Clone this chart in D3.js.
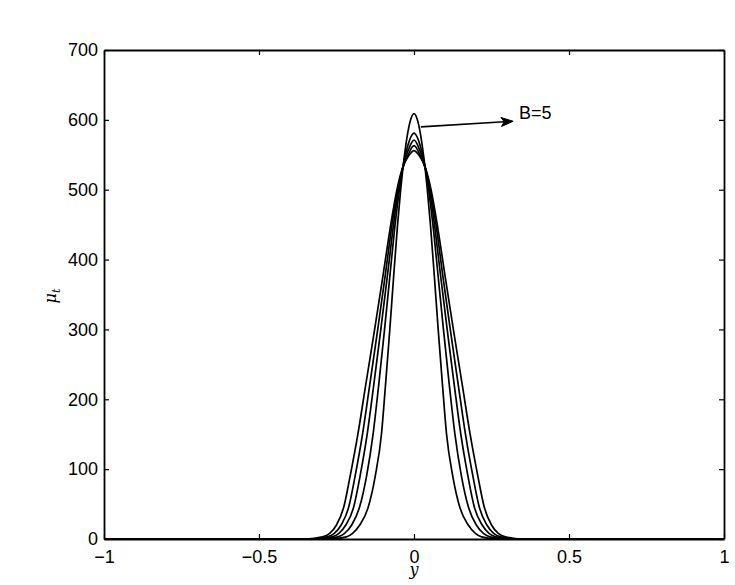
<!DOCTYPE html>
<html>
<head>
<meta charset="utf-8">
<script src="https://cdn.jsdelivr.net/npm/d3@7"></script>
<style>
  html, body { margin: 0; padding: 0; background: #fff; }
  svg { display: block; }
</style>
</head>
<body>
<svg id="chart" width="735" height="585"></svg>
<script>
// ---- data ----
const xTicks = [-1, -0.5, 0, 0.5, 1];
const xTickLabels = ["\u22121", "\u22120.5", "0", "0.5", "1"];
const yTicks = [0, 100, 200, 300, 400, 500, 600, 700];
const yTickLabels = ["0", "100", "200", "300", "400", "500", "600", "700"];

// mu_t levels at which each curve's half-width |y| was read
const levels = [0, 3, 8, 20, 45, 90, 150, 220, 300, 380, 450, 500, 530];
// half-widths (|y|) per curve, innermost (B=5) to outermost
const widthB5 = [0.270, 0.218, 0.198, 0.175, 0.148, 0.125, 0.105, 0.092, 0.078, 0.065, 0.053, 0.043, 0.036];
const widthC2 = [0.290, 0.245, 0.224, 0.201, 0.176, 0.153, 0.132, 0.114, 0.095, 0.077, 0.061, 0.047, 0.037];
const widthC3 = [0.310, 0.264, 0.242, 0.220, 0.195, 0.174, 0.151, 0.130, 0.107, 0.085, 0.066, 0.050, 0.037];
const widthC4 = [0.330, 0.280, 0.257, 0.235, 0.211, 0.190, 0.166, 0.143, 0.117, 0.092, 0.071, 0.053, 0.037];
const widthC5 = [0.350, 0.295, 0.272, 0.250, 0.227, 0.206, 0.181, 0.156, 0.127, 0.099, 0.075, 0.055, 0.038];
// points near the top of each curve: [level, half-width], last is the peak
const topB5 = [[565, 0.026], [595, 0.014], [609, 0]];
const topC2 = [[560, 0.022], [581, 0]];
const topC3 = [[555, 0.020], [571, 0]];
const topC4 = [[550, 0.019], [563, 0]];
const topC5 = [[550, 0.015], [556, 0]];

const curves = [
  { widths: widthB5, top: topB5 },
  { widths: widthC2, top: topC2 },
  { widths: widthC3, top: topC3 },
  { widths: widthC4, top: topC4 },
  { widths: widthC5, top: topC5 }
];

// annotation
const arrowFrom = [0.022, 590];
const arrowTo = [0.320, 598];
const labelPos = [0.339, 610];
const labelText = "B=5";

// ---- layout ----
const svg = d3.select("#chart");
const mLeft = 104, mRight = 724, mTop = 50, mBottom = 539;
const x = d3.scaleLinear().domain([-1, 1]).range([mLeft, mRight]);
const y = d3.scaleLinear().domain([0, 700]).range([mBottom, mTop]);

function profile(c) {
  const pts = [[-1, 0]];
  for (let i = 0; i < levels.length; i++) pts.push([-c.widths[i], levels[i]]);
  for (let i = 0; i < c.top.length; i++) {
    const w = c.top[i][1];
    pts.push([w > 0 ? -w : 0, c.top[i][0]]);
  }
  for (let i = c.top.length - 2; i >= 0; i--) pts.push([c.top[i][1], c.top[i][0]]);
  for (let i = levels.length - 1; i >= 0; i--) pts.push([c.widths[i], levels[i]]);
  pts.push([1, 0]);
  return pts;
}

const line = d3.line()
  .x(d => x(d[0]))
  .y(d => y(d[1]))
  .curve(d3.curveMonotoneX);

svg.append("defs").append("clipPath").attr("id", "clip")
  .append("rect").attr("x", mLeft).attr("y", mTop)
  .attr("width", mRight - mLeft).attr("height", mBottom - mTop);

svg.append("g").attr("clip-path", "url(#clip)")
  .selectAll("path.curve")
  .data(curves)
  .join("path")
  .attr("class", "curve")
  .attr("d", d => line(profile(d)))
  .attr("fill", "none")
  .attr("stroke", "#000")
  .attr("stroke-width", 1.7)
  .attr("stroke-linejoin", "round");

// axes (MATLAB-like: ticks inward, box)
const font = "'Liberation Sans', Arial, Helvetica, sans-serif";
const axB = svg.append("g").attr("transform", `translate(0,${mBottom})`)
  .call(d3.axisBottom(x).tickValues(xTicks).tickSize(-5).tickSizeOuter(0)
    .tickFormat((d, i) => xTickLabels[i]).tickPadding(11));
const axT = svg.append("g").attr("transform", `translate(0,${mTop})`)
  .call(d3.axisTop(x).tickValues(xTicks).tickSize(-5).tickSizeOuter(0).tickFormat(""));
const axL = svg.append("g").attr("transform", `translate(${mLeft},0)`)
  .call(d3.axisLeft(y).tickValues(yTicks).tickSize(-5).tickSizeOuter(0)
    .tickFormat((d, i) => yTickLabels[i]).tickPadding(6));
const axR = svg.append("g").attr("transform", `translate(${mRight},0)`)
  .call(d3.axisRight(y).tickValues(yTicks).tickSize(-5).tickSizeOuter(0).tickFormat(""));

[axB, axT, axL, axR].forEach(g => {
  g.select(".domain").attr("stroke", "#000").attr("stroke-width", 1.8);
  g.selectAll(".tick line").attr("stroke", "#000").attr("stroke-width", 1.2);
  g.selectAll(".tick text").attr("fill", "#000")
    .style("font-family", font).style("font-size", "18px");
});
axB.selectAll(".tick text").attr("dy", "0.71em");

// axis titles
svg.append("text")
  .attr("x", x(0)).attr("y", 575)
  .attr("text-anchor", "middle")
  .style("font-family", "'DejaVu Serif', 'Liberation Serif', serif")
  .style("font-style", "italic").style("font-size", "16px")
  .text("y");

const yl = svg.append("text")
  .attr("transform", `translate(56,296) rotate(-90)`)
  .attr("text-anchor", "middle")
  .style("font-family", "'DejaVu Serif', 'Liberation Serif', serif")
  .style("font-style", "italic").style("font-size", "16px");
yl.append("tspan").text("\u03bc");
yl.append("tspan").attr("dy", 4).style("font-size", "11px").text("t");

// arrow annotation
const x0 = x(arrowFrom[0]), y0 = y(arrowFrom[1]);
const x1 = x(arrowTo[0]), y1 = y(arrowTo[1]);
const ang = Math.atan2(y1 - y0, x1 - x0);
const hl = 12, hw = 4.5, back = 9;
svg.append("line")
  .attr("x1", x0).attr("y1", y0)
  .attr("x2", x1 - Math.cos(ang) * back).attr("y2", y1 - Math.sin(ang) * back)
  .attr("stroke", "#000").attr("stroke-width", 1.6);
const ca = Math.cos(ang), sa = Math.sin(ang);
const p = (dx, dy) => [x1 + dx * ca - dy * sa, y1 + dx * sa + dy * ca];
const head = [p(0, 0), p(-hl, -hw), p(-back, 0), p(-hl, hw)];
svg.append("path")
  .attr("d", "M" + head.map(q => q.join(",")).join("L") + "Z")
  .attr("fill", "#000").attr("stroke", "#000").attr("stroke-width", 1)
  .attr("stroke-linejoin", "miter");

svg.append("text")
  .attr("x", x(labelPos[0])).attr("y", y(labelPos[1]))
  .attr("dy", "0.35em")
  .style("font-family", font).style("font-size", "18px")
  .attr("fill", "#000")
  .text(labelText);
</script>
</body>
</html>
